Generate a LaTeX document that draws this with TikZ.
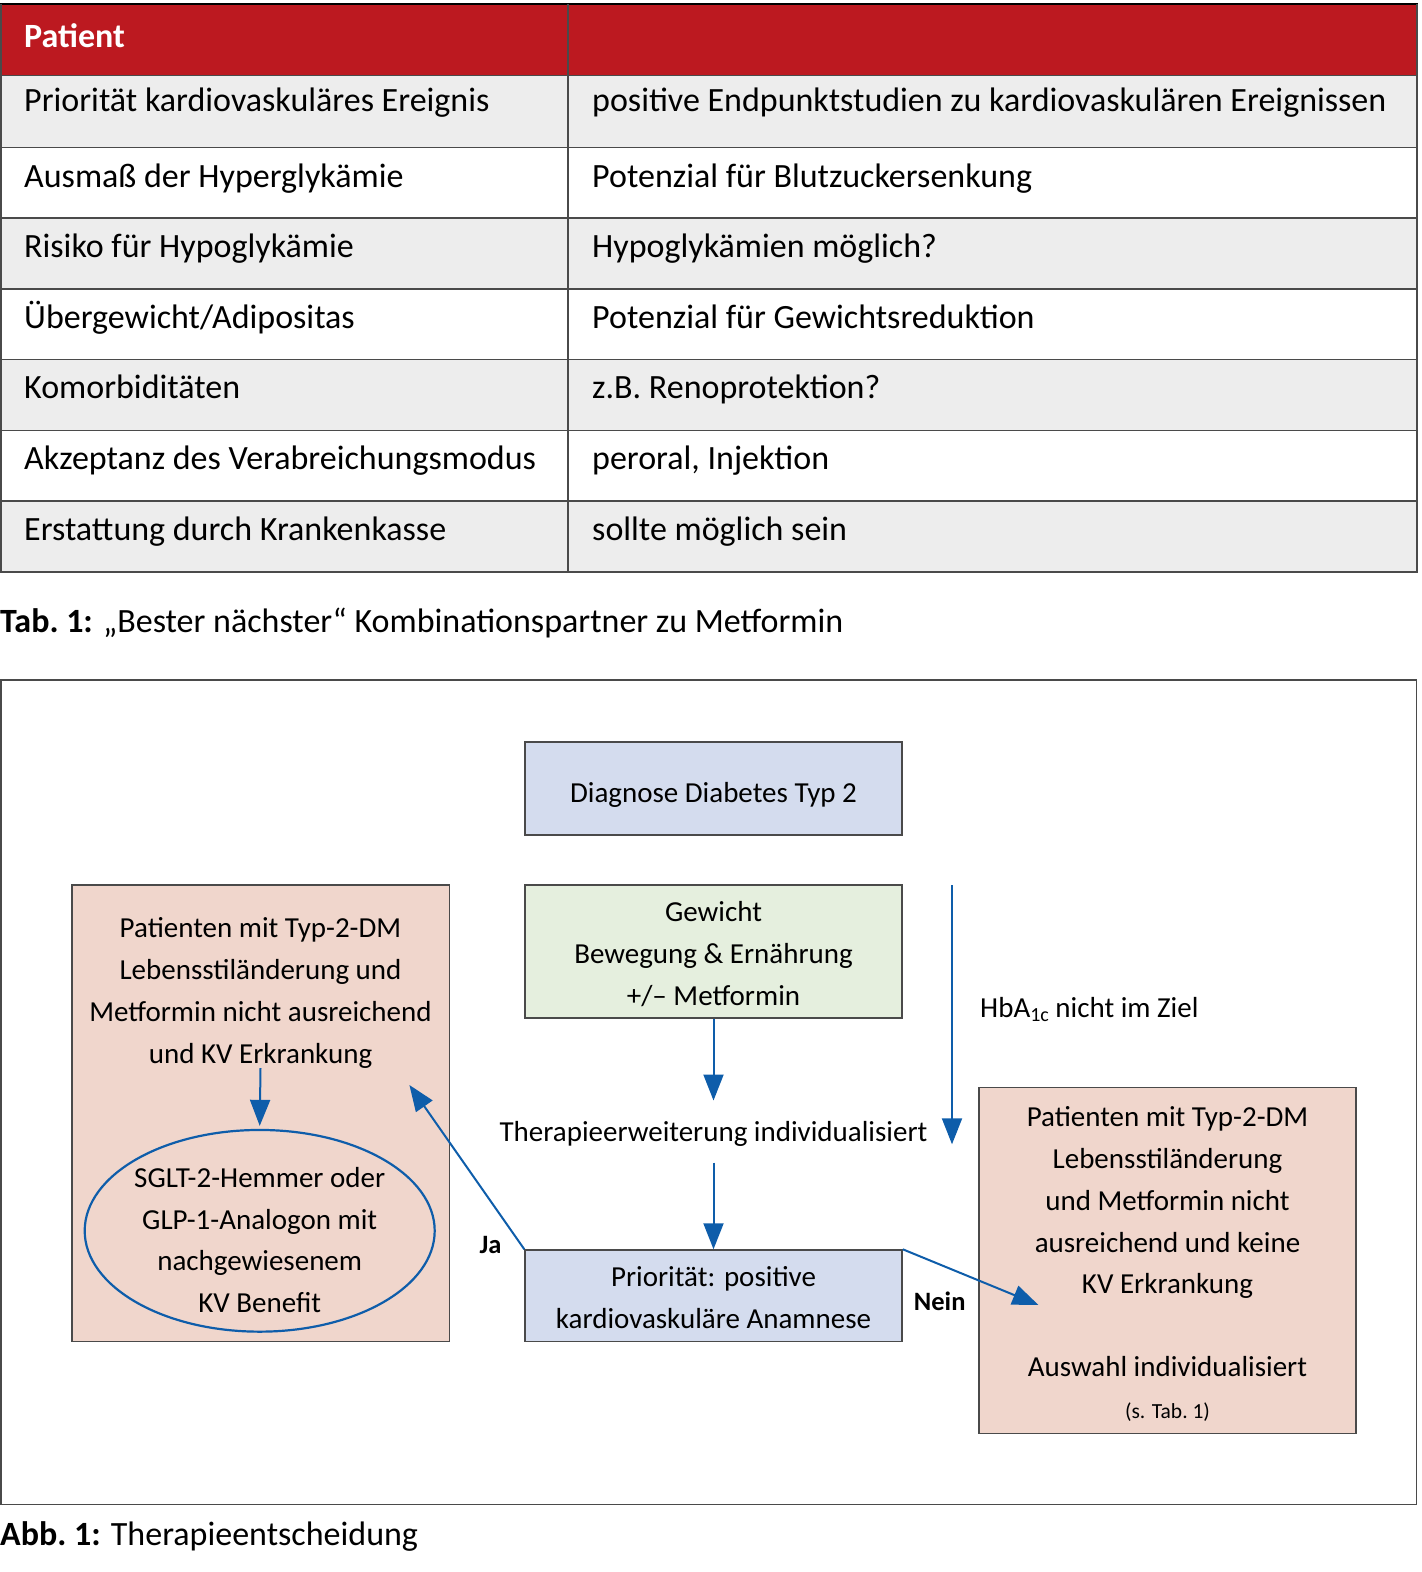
\documentclass[tikz,border=0pt]{standalone}
\usepackage{fontspec}
\setmainfont{Carlito}
\usetikzlibrary{arrows.meta,shapes.geometric}
\definecolor{hdrred}{HTML}{BC1920}
\definecolor{rowgray}{HTML}{EDEDED}
\definecolor{gridc}{HTML}{4A4A4A}
\definecolor{boxblue}{HTML}{D4DCEE}
\definecolor{boxgreen}{HTML}{E5EFDE}
\definecolor{boxpink}{HTML}{F0D6CC}
\definecolor{arrblue}{HTML}{0E5DAA}
\newcommand\mystrut{\rule{0pt}{25pt}}
\begin{document}
\begin{tikzpicture}[x=1pt,y=-1pt,
  tabtxt/.style={anchor=base west,inner sep=0pt,font=\fontsize{34}{40}\selectfont},
  capt/.style={anchor=base west,inner sep=0pt,font=\fontsize{34}{40}\selectfont},
  txt/.style={inner sep=0pt,align=center,font=\fontsize{29}{41.7}\selectfont},
  mtxt/.style={txt,anchor=north},
  stxt/.style={txt,anchor=base},
  boxbase/.style={draw=gridc,line width=1.4pt,minimum width=377pt,inner sep=0pt},
  bluebox/.style={boxbase,fill=boxblue},
  greenbox/.style={boxbase,fill=boxgreen},
  pinkbox/.style={boxbase,fill=boxpink},
  lbl/.style={anchor=base,inner sep=0pt,font=\fontsize{26.5}{32}\selectfont\bfseries},
  arr/.style={draw=arrblue,line width=2pt,-{Triangle[length=26pt,width=20pt]}}]
\useasboundingbox (0,0) rectangle (1422,1572);
% ---------------- table ----------------
\fill[hdrred] (0,4) rectangle (1418,75.5);
\foreach \t/\b/\f in {75.5/147.5/rowgray,147.5/218/white,218/289/rowgray,289/359.5/white,359.5/430.5/rowgray,430.5/501/white,501/572/rowgray}
  {\fill[\f] (0,\t) rectangle (1418,\b);}
\foreach \y in {75.5,147.5,218,289,359.5,430.5,501,572}
  {\draw[gridc,line width=1.6pt] (0,\y) -- (1418,\y);}
\draw[black,line width=2.5pt] (0,4) -- (1418,4);
\draw[gridc,line width=1.6pt] (0.8,4) -- (0.8,572);
\draw[gridc,line width=1.6pt] (568,4) -- (568,572);
\draw[gridc,line width=1.6pt] (1417.2,4) -- (1417.2,572);
\node[tabtxt,text=white,font=\fontsize{34}{40}\selectfont\bfseries] (hdr) at (24,47) {Patient};
\foreach \n/\yb/\a/\b in {
  1/111/{Priorität kardiovaskuläres Ereignis}/{positive Endpunktstudien zu kardiovaskulären Ereignissen},
  2/187/{Ausmaß der Hyperglykämie}/{Potenzial für Blutzuckersenkung},
  3/257/{Risiko für Hypoglykämie}/{Hypoglykämien möglich?},
  4/328/{Übergewicht/Adipositas}/{Potenzial für Gewichtsreduktion},
  5/398/{Komorbiditäten}/{z.B. Renoprotektion?},
  6/469/{Akzeptanz des Verabreichungsmodus}/{peroral, Injektion},
  7/540/{Erstattung durch Krankenkasse}/{sollte möglich sein}}
  {\node[tabtxt] (ta\n) at (24,\yb) {\a};
   \node[tabtxt] (tb\n) at (592,\yb) {\b};}
\node[capt] (tabcap) at (0,632) {\textbf{Tab.\ 1:} „Bester nächster“ Kombinationspartner zu Metformin};
% ---------------- figure ----------------
\draw[gridc,line width=1.6pt] (0.9,680) rectangle (1416.5,1504.5);
\node[bluebox,minimum height=93pt] (diag) at (713.5,788.5) {};
\node[stxt] (diagt) at (713.5,802) {Diagnose Diabetes Typ 2};
\node[greenbox,minimum height=133pt] (gew) at (713.5,951.5) {};
\node[mtxt] (gewt) at (713.5,896.7) {\mystrut Gewicht\\Bewegung \& Ernährung\\+/– Metformin};
\node[bluebox,minimum height=91.7pt] (prio) at (713.5,1295.8) {};
\node[mtxt] (priot) at (713.5,1261.7) {\mystrut Priorität: positive\\kardiovaskuläre Anamnese};
\node[pinkbox,minimum width=377.5pt,minimum height=456.7pt] (lbox) at (260.75,1113.3) {};
\node[mtxt] (ltext) at (260.5,912.7) {\mystrut Patienten mit Typ-2-DM\\Lebensstiländerung und\\Metformin nicht ausreichend\\und KV Erkrankung};
\node[ellipse,draw=arrblue,line width=2.2pt,minimum width=350pt,minimum height=201.7pt,inner sep=0pt] (ell) at (259.7,1230.8) {};
\node[mtxt] (etext) at (259.7,1162.3) {\mystrut SGLT-2-Hemmer oder\\GLP-1-Analogon mit\\nachgewiesenem\\KV Benefit};
\node[pinkbox,minimum height=345.6pt] (rbox) at (1167.5,1260.5) {};
\node[mtxt] (rtext) at (1167.5,1101.7) {\mystrut Patienten mit Typ-2-DM\\Lebensstiländerung\\und Metformin nicht\\ausreichend und keine\\KV Erkrankung};
\node[stxt] (rsel) at (1167.5,1376.7) {Auswahl individualisiert};
\node[stxt,font=\fontsize{21.5}{26}\selectfont] (rref) at (1167.5,1418.3) {(s. Tab.\ 1)};
\node[stxt,text height=20pt,text depth=6pt] (ther) at (713.5,1141.7) {Therapieerweiterung individualisiert};
\node[txt,anchor=base west] (hba) at (980,1017) {HbA\raisebox{-0.3ex}{\fontsize{20}{20}\selectfont 1c} nicht im Ziel};
\node[lbl] (ja) at (490.6,1253.3) {Ja};
\node[lbl] (nein) at (939.7,1310) {Nein};
\coordinate (hbtop) at (952,885);
\coordinate (hbbot) at (952,1144.3);
\coordinate (jaend) at (409.4,1085);
\coordinate (neinend) at (1038.5,1305);
\draw[arr,shorten >=21pt] (gew.south) -- (ther.north);
\draw[arr,shorten <=14.6pt] (ther.south) -- (prio.north);
\draw[arr,shorten >=3pt] (ltext.south) -- (ell.north);
\draw[arr] (hbtop) -- (hbbot);
\draw[arr] (prio.north west) -- (jaend);
\draw[arr] (prio.north east) -- (neinend);
\node[capt] (abbcap) at (0,1545) {\textbf{Abb.\ 1:} Therapieentscheidung};
\end{tikzpicture}
\end{document}
